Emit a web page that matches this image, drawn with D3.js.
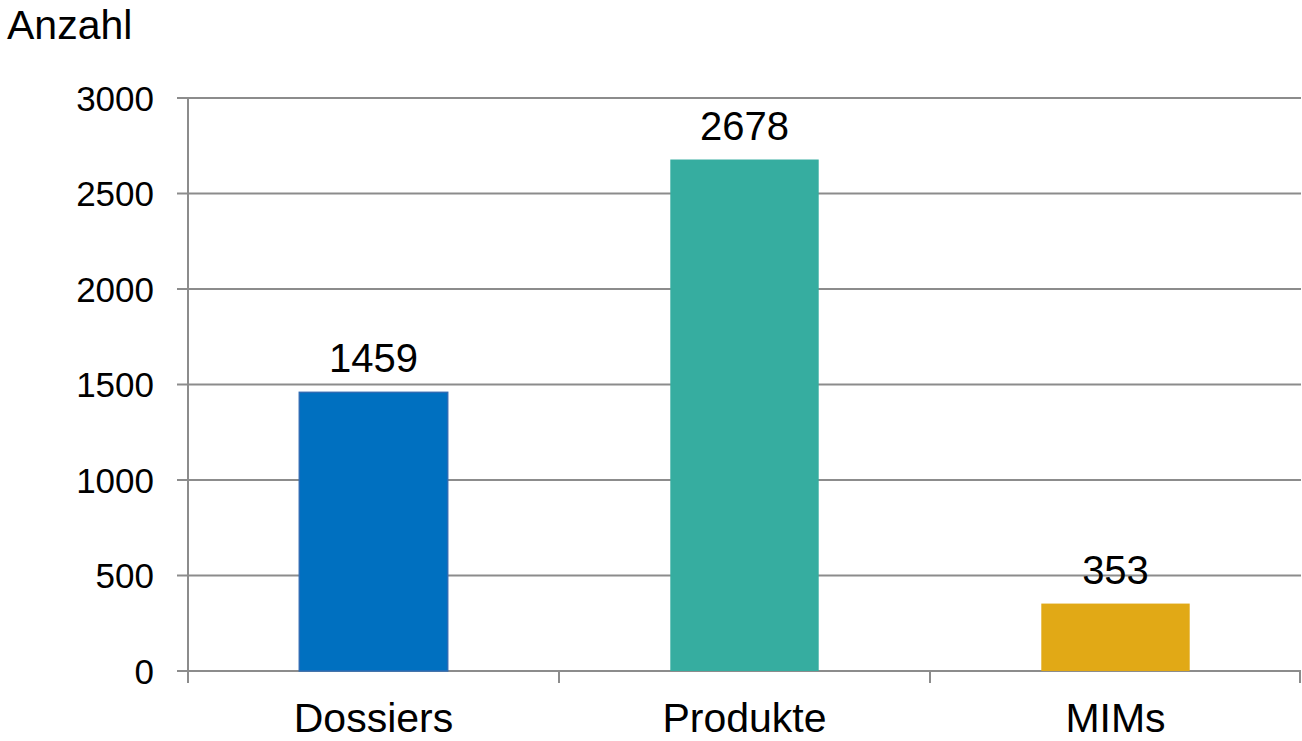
<!DOCTYPE html>
<html>
<head>
<meta charset="utf-8">
<script src="https://d3js.org/d3.v7.min.js"></script>
<style>
    body { margin: 0; background: #fff; }
    text { font-family: "Liberation Sans", Arial, sans-serif; fill: #000; }
</style>
</head>
<body>
<div id="chart"></div>
<script>

    // data
    var categories = ["Dossiers", "Produkte", "MIMs"];
    var values = [1459, 2678, 353];
    var colors = ["#0070C0", "#36ADA0", "#E1A916"];
    var yTicks = [0, 500, 1000, 1500, 2000, 2500, 3000];
    var yTitle = "Anzahl";

    // dimensions
    var W = 1302, H = 741;
    var margin = { top: 98, right: 1, bottom: 70, left: 188 },
        width = W - margin.left - margin.right,
        height = H - margin.top - margin.bottom;

    var svg = d3.select("#chart")
        .append("svg")
        .attr("width", W)
        .attr("height", H);

    var g = svg.append("g")
        .attr("transform", "translate(" + margin.left + "," + margin.top + ")");

    var x = d3.scaleBand()
        .domain(categories)
        .range([0, width])
        .padding(0);

    var y = d3.scaleLinear()
        .domain([0, 3000])
        .range([height, 0]);

    var gridColor = "#8c8c8c";

    // horizontal gridlines (with small outside tick on the left)
    g.selectAll(".grid")
        .data(yTicks)
        .enter()
        .append("line")
        .attr("x1", -11)
        .attr("x2", width)
        .attr("y1", function (d) { return y(d); })
        .attr("y2", function (d) { return y(d); })
        .attr("stroke", gridColor)
        .attr("stroke-width", 2);

    // y axis line
    g.append("line")
        .attr("x1", 0).attr("x2", 0)
        .attr("y1", y(3000)).attr("y2", y(0) + 12)
        .attr("stroke", gridColor)
        .attr("stroke-width", 2);

    // x tick marks at band boundaries
    var bounds = categories.map(function (c) { return x(c); }).concat([width]);
    g.selectAll(".xtick")
        .data(bounds)
        .enter()
        .append("line")
        .attr("x1", function (d) { return d === width ? d - 1 : d; })
        .attr("x2", function (d) { return d === width ? d - 1 : d; })
        .attr("y1", y(0))
        .attr("y2", y(0) + 12)
        .attr("stroke", gridColor)
        .attr("stroke-width", 2);

    // y tick labels
    g.selectAll(".ylab")
        .data(yTicks)
        .enter()
        .append("text")
        .attr("x", -34)
        .attr("y", function (d) { return y(d); })
        .attr("dy", "0.36em")
        .attr("text-anchor", "end")
        .style("font-size", "35px")
        .text(function (d) { return d; });

    // bars
    var barW = x.bandwidth() * 0.4;
    g.selectAll(".bar")
        .data(values)
        .enter()
        .append("rect")
        .attr("x", function (d, i) { return x(categories[i]) + (x.bandwidth() - barW) / 2; })
        .attr("y", function (d) { return y(d); })
        .attr("width", barW)
        .attr("height", function (d) { return y(0) - y(d); })
        .style("fill", function (d, i) { return colors[i]; })
        .attr("stroke", function (d, i) { return i === 0 ? "#2e6cb4" : "none"; })
        .attr("stroke-width", 1.5);

    // value labels
    g.selectAll(".val")
        .data(values)
        .enter()
        .append("text")
        .attr("x", function (d, i) { return x(categories[i]) + x.bandwidth() / 2; })
        .attr("y", function (d) { return y(d) - 20; })
        .attr("text-anchor", "middle")
        .style("font-size", "40px")
        .text(function (d) { return d; });

    // category labels
    g.selectAll(".xlab")
        .data(categories)
        .enter()
        .append("text")
        .attr("x", function (d) { return x(d) + x.bandwidth() / 2; })
        .attr("y", y(0) + 61)
        .attr("text-anchor", "middle")
        .style("font-size", "41px")
        .text(function (d) { return d; });

    // axis title
    svg.append("text")
        .attr("x", 7)
        .attr("y", 39)
        .style("font-size", "41px")
        .text(yTitle);

</script>
</body>
</html>
